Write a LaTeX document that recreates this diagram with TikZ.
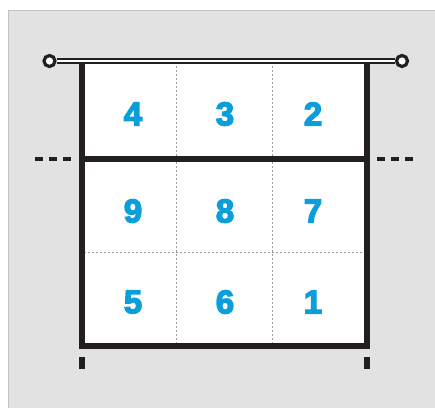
\documentclass[tikz,border=0pt]{standalone}
\usepackage{fontspec}
\setmainfont{Liberation Sans}
\newfontfamily\digitfont[FakeBold=4]{Liberation Sans Bold}
\definecolor{bg}{HTML}{E2E2E2}
\definecolor{bgline}{HTML}{C4C4C4}
\definecolor{ink}{HTML}{231F20}
\definecolor{num}{HTML}{0A9FDB}
\definecolor{dotc}{HTML}{9A9A9A}
\begin{document}
\begin{tikzpicture}[x=1pt,y=-1pt,
  court/.style={draw=ink,line width=5.5pt},
  zone/.style={draw=dotc,line width=0.8pt,dash pattern=on 1.5pt off 2.5pt},
  digit/.style={text=num,font=\digitfont\fontsize{33}{33}\selectfont,inner sep=0pt},
  post/.style={circle,draw=ink,fill=white,line width=3.2pt,minimum size=11pt,inner sep=0pt},
  tick/.style={draw=ink,line width=5.5pt}]
\useasboundingbox (0,0) rectangle (435,407);
\fill[white] (0,0) rectangle (435,407);
\draw[bgline,fill=bg,line width=0.8pt] (8,10) rectangle (436,408);
% court area
\fill[white] (82,63) rectangle (367,346);
% zone lines
\draw[zone] (176,66) -- (176,344);
\draw[zone] (272,66) -- (272,344);
\draw[zone] (84,252) -- (365,252);
% coordinates
\coordinate (tl) at (82,61);
\coordinate (tr) at (367,61);
\coordinate (bl) at (82,346);
\coordinate (br) at (367,346);
\coordinate (al) at (82,159);
\coordinate (ar) at (367,159);
% court lines
\draw[court,line join=miter] (tl) -- (bl) -- (br) -- (tr);
\draw[court] (al) -- (ar);
% net
\node[post] (pl) at (49.5,61) {};
\node[post] (pr) at (402,61) {};
\draw[ink,line width=6pt] (pl.east) -- (pr.west);
\draw[white,line width=1.8pt] (pl.east) -- (pr.west);
% attack line extensions
\coordinate (dl1) at (35,159); \coordinate (dl2) at (73,159);
\coordinate (dr1) at (377,159); \coordinate (dr2) at (415,159);
\draw[ink,line width=4.5pt,dash pattern=on 8pt off 6pt] (dl1) -- (dl2);
\draw[ink,line width=4.5pt,dash pattern=on 8pt off 6pt] (dr1) -- (dr2);
% ticks
\coordinate (t1a) at (82,357); \coordinate (t1b) at (82,369);
\coordinate (t2a) at (367,357); \coordinate (t2b) at (367,369);
\draw[tick] (t1a) -- (t1b);
\draw[tick] (t2a) -- (t2b);
% numbers
\node[digit] (n4) at (133,114) {4};
\node[digit] (n3) at (225,114) {3};
\node[digit] (n2) at (313,114) {2};
\node[digit] (n9) at (133,211) {9};
\node[digit] (n8) at (225,211) {8};
\node[digit] (n7) at (313,211) {7};
\node[digit] (n5) at (133,302) {5};
\node[digit] (n6) at (225,302) {6};
\node[digit] (n1) at (313,302) {1};
\end{tikzpicture}
\end{document}
